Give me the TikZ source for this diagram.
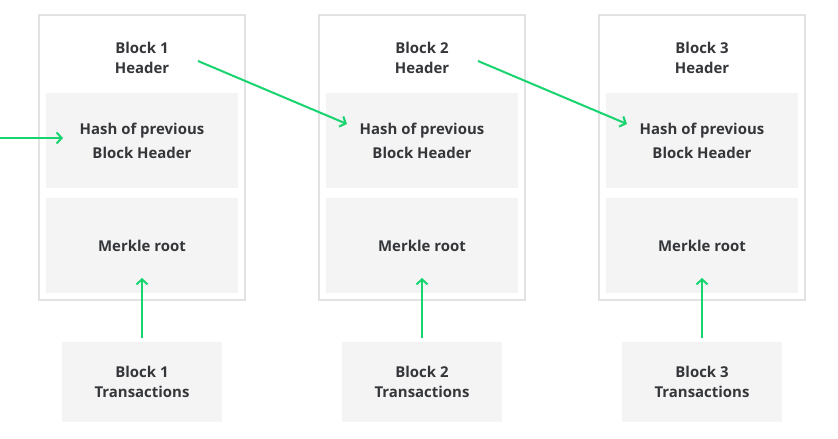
\documentclass[tikz,border=0pt]{standalone}
\usepackage{fontspec}
\setmainfont{Open Sans}
\usetikzlibrary{positioning}
\usetikzlibrary{arrows.meta}
\usetikzlibrary{calc}
\definecolor{chaingreen}{RGB}{24,212,110}
\definecolor{boxgray}{RGB}{244,244,244}
\definecolor{framegray}{RGB}{226,226,226}
\definecolor{labeltext}{RGB}{52,54,58}
\newcommand{\fieldfont}{\fontsize{15}{20}\bfseries\selectfont}
\tikzstyle{blockframe}=[draw=framegray,line width=2bp,minimum width=206bp,minimum height=285bp,inner sep=0pt]
\tikzstyle{field}=[fill=boxgray,minimum width=192bp,minimum height=95bp,align=center,text=labeltext,font=\fieldfont]
\tikzstyle{txbox}=[fill=boxgray,minimum width=160bp,minimum height=80bp,align=center,text=labeltext,font=\fieldfont]
\tikzstyle{headlabel}=[align=center,text=labeltext,font=\fieldfont]
\tikzstyle{link}=[draw,chaingreen,line width=2bp,-{Straight Barb[length=5bp,width=11bp]}]

\begin{document}
\begin{tikzpicture}[x=1bp,y=-1bp]

    \useasboundingbox (0,0) rectangle (838,439);

    \foreach \x/\n in {142/1, 422/2, 702/3} {
        \node[blockframe] (block\n) at (\x,157.5) {};
        \node[headlabel] (head\n) at (\x,58) {Block \n\\Header};
        \node[field] (hash\n) at (\x,141) {Hash of previous\\[4bp]Block Header};
        \node[field] (merkle\n) at (\x,245.5) {Merkle root};
        \node[txbox] (tx\n) at (\x,382) {Block \n\\Transactions};
    }

    \coordinate (chainin) at (0,138);
    \path[link] (chainin) -- ($(hash1)+(-79,-3)$);

    \foreach \src/\dst in {1/2, 2/3}
        \path[link] ($(head\src)+(56,3)$) -- ($(hash\dst)+(-75,-17)$);

    \foreach \n in {1,2,3}
        \path[link] ($(tx\n.north)+(0,-4)$) -- ($(merkle\n)+(0,32.5)$);

\end{tikzpicture}
\end{document}
